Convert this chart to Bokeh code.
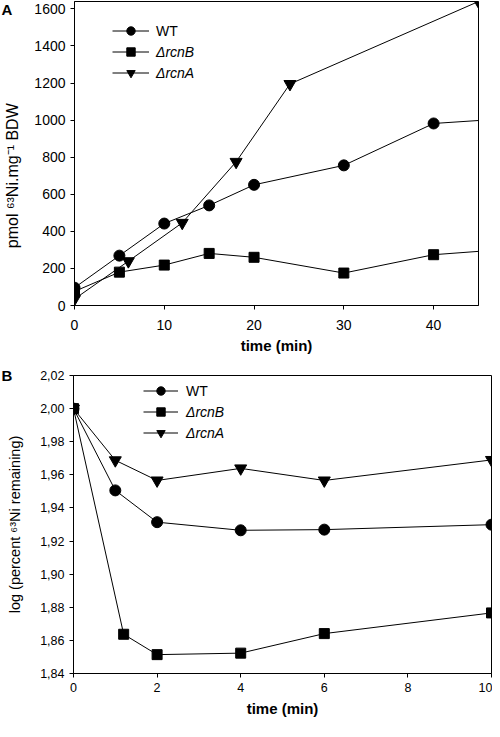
from bokeh.plotting import figure
from bokeh.models import Legend, LegendItem, Range1d, CustomJSTickFormatter
from bokeh.embed import file_html
from bokeh.resources import INLINE

# ---------------- data: panel A (uptake) ----------------
time_a = [0, 5, 10, 15, 20, 30, 40, 45]
wt_a = [96, 269, 442, 540, 651, 756, 982, 998]
rcnB_a = [76, 180, 218, 281, 260, 175, 274, 292]
time_a_rcnA = [0, 6, 12, 18, 24, 45]
rcnA_a = [35, 239, 446, 775, 1195, 1640]
xticks_a = [0, 10, 20, 30, 40]
yticks_a = [0, 200, 400, 600, 800, 1000, 1200, 1400, 1600]

# ---------------- data: panel B (efflux) ----------------
time_b = [0, 1, 2, 4, 6, 10]
wt_b = [2.000, 1.9506, 1.9314, 1.9265, 1.9269, 1.9299]
time_b_rcnB = [0, 1.2, 2, 4, 6, 10]
rcnB_b = [2.000, 1.8637, 1.8514, 1.8523, 1.8641, 1.8766]
rcnA_b = [2.000, 1.9688, 1.9566, 1.9639, 1.9566, 1.9690]
xticks_b = [0, 2, 4, 6, 8, 10]
yticks_b = [1.84, 1.86, 1.88, 1.90, 1.92, 1.94, 1.96, 1.98, 2.00, 2.02]

series_names = ["WT", "\u0394rcnB", "\u0394rcnA"]
panel_names = ["A", "B"]

FONT = "Liberation Sans"
NBSP = "\u00a0"


def style(p, tick_size, ytitle_size, ytitle_standoff, xlabel_standoff, xtitle_standoff):
    p.grid.visible = False
    p.outline_line_color = "black"
    p.outline_line_width = 1
    p.background_fill_color = "white"
    p.border_fill_color = "white"
    for ax in (p.xaxis[0], p.yaxis[0]):
        ax.axis_line_color = "black"
        ax.axis_line_width = 1
        ax.major_tick_line_color = "black"
        ax.major_tick_out = 4
        ax.major_tick_in = 0
        ax.minor_tick_line_color = None
        ax.major_label_text_font = FONT
        ax.major_label_text_font_size = tick_size
        ax.major_label_text_color = "black"
        ax.axis_label_text_font = FONT
        ax.axis_label_text_color = "black"
    p.xaxis[0].axis_label = "time (min)"
    p.xaxis[0].axis_label_text_font_style = "bold"
    p.xaxis[0].axis_label_text_font_size = "15px"
    p.xaxis[0].major_label_standoff = xlabel_standoff
    p.xaxis[0].axis_label_standoff = xtitle_standoff
    p.yaxis[0].axis_label_text_font_style = "normal"
    p.yaxis[0].axis_label_text_font_size = ytitle_size
    p.yaxis[0].axis_label_standoff = ytitle_standoff
    p.yaxis[0].major_label_standoff = 5


def panel_letter(p, letter, offset, standoff):
    p.title.text = letter
    p.title.align = "left"
    p.title.vertical_align = "bottom"
    p.title.offset = offset
    p.title.standoff = standoff
    p.title.text_font = FONT
    p.title.text_font_style = "bold"
    p.title.text_font_size = "15px"
    p.title.text_color = "black"


def add_legends(p, rends, x0, y_wt, y_mut, gw, standoff):
    common = dict(padding=0, margin=0, spacing=0, glyph_width=gw, glyph_height=21,
                  label_height=21, label_standoff=standoff, border_line_alpha=0,
                  background_fill_alpha=0, label_text_font=FONT,
                  label_text_font_size="14px", label_text_color="black")
    l1 = Legend(items=[LegendItem(label=series_names[0], renderers=rends[0])],
                location=(x0, y_wt), **common)
    l2 = Legend(items=[LegendItem(label=series_names[1], renderers=rends[1]),
                       LegendItem(label=series_names[2], renderers=rends[2])],
                location=(x0, y_mut), label_text_font_style="italic", **common)
    p.add_layout(l1)
    p.add_layout(l2)


# ---------------- panel A ----------------
pA = figure(width=492, height=361, x_range=Range1d(0, 45), y_range=Range1d(0, 1640),
            output_backend="svg", toolbar_location=None,
            min_border_left=74, min_border_right=14, min_border_top=1, min_border_bottom=56)
style(pA, "14px", "16px", 10, 10, 4)
panel_letter(pA, panel_names[0], -73, -32)
pA.xaxis[0].ticker = xticks_a
pA.yaxis[0].ticker = yticks_a
pA.yaxis[0].axis_label = "pmol \u2076\u00b3Ni.mg\u207b\u00b9 BDW" + NBSP * 10

a1 = pA.line(time_a, wt_a, line_color="black", line_width=1)
a1m = pA.scatter(time_a[:-1], wt_a[:-1], marker="circle", size=11, color="black")
a2 = pA.line(time_a, rcnB_a, line_color="black", line_width=1)
a2m = pA.scatter(time_a[:-1], rcnB_a[:-1], marker="square", size=10, color="black")
a3 = pA.line(time_a_rcnA, rcnA_a, line_color="black", line_width=1)
a3m = pA.scatter(time_a_rcnA, rcnA_a, marker="inverted_triangle", size=12, color="black")
add_legends(pA, [[a1, a1m], [a2, a2m], [a3, a3m]], 38, 264, 222, 37, 7)

# ---------------- panel B ----------------
pB = figure(width=492, height=360, x_range=Range1d(0, 10), y_range=Range1d(1.84, 2.02),
            output_backend="svg", toolbar_location=None,
            min_border_left=73, min_border_right=1, min_border_top=14, min_border_bottom=48)
style(pB, "12.5px", "14.5px", 14, 5, 5)
panel_letter(pB, panel_names[1], -72, -17)
pB.xaxis[0].ticker = xticks_b
pB.yaxis[0].ticker = yticks_b
pB.yaxis[0].formatter = CustomJSTickFormatter(code="return tick.toFixed(2).replace('.', ',');")
pB.yaxis[0].axis_label = "log (percent \u2076\u00b3Ni remaining)"

b1 = pB.line(time_b, wt_b, line_color="black", line_width=1)
b1m = pB.scatter(time_b, wt_b, marker="circle", size=11, color="black")
b2 = pB.line(time_b_rcnB, rcnB_b, line_color="black", line_width=1)
b2m = pB.scatter(time_b_rcnB, rcnB_b, marker="square", size=10, color="black")
b3 = pB.line(time_b, rcnA_b, line_color="black", line_width=1)
b3m = pB.scatter(time_b, rcnA_b, marker="inverted_triangle", size=12, color="black")
add_legends(pB, [[b1, b1m], [b2, b2m], [b3, b3m]], 70, 272, 230, 35, 8)

open("out.html", "w").write(file_html([pA, pB], INLINE))
